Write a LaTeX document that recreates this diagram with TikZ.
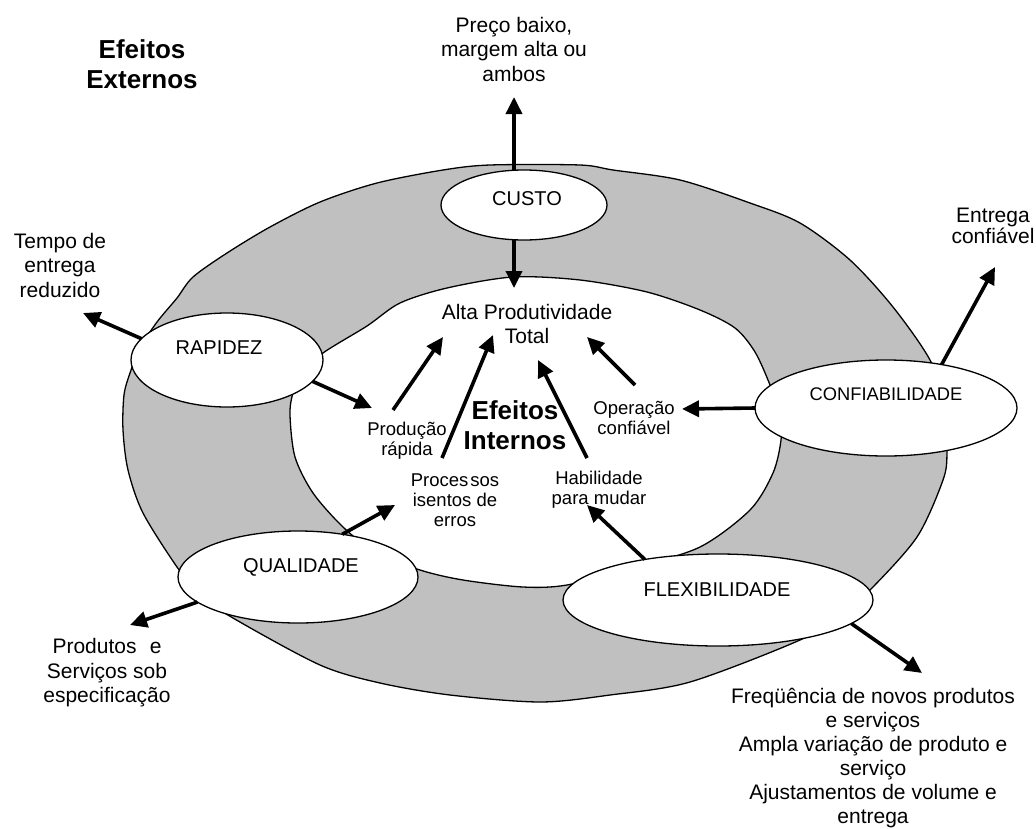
\documentclass[tikz,border=0pt]{standalone}
\usepackage{fontspec}
\setmainfont{Liberation Sans}
\usetikzlibrary{shapes.geometric, arrows.meta, calc}
\definecolor{ringgray}{HTML}{C0C0C0}

\begin{document}
\begin{tikzpicture}[x=1pt, y=-1pt,
  outline/.style={draw=black, line width=1.3pt, line join=round},
  bubble/.style={ellipse, draw=black, fill=white, line width=1.3pt, inner sep=0pt, outer sep=0pt},
  bubbletext/.style={inner sep=0pt, font=\fontsize{20}{24}\selectfont},
  outerlbl/.style={align=center, inner sep=0pt, font=\fontsize{21}{24.5}\selectfont},
  innerlbl/.style={align=center, inner sep=0pt, font=\fontsize{18.5}{20}\selectfont},
  heading/.style={align=center, inner sep=0pt, font=\bfseries\fontsize{26}{30}\selectfont},
  link/.style={line width=3.6pt, -{Triangle[length=17pt,width=16pt]}}
]
\useasboundingbox (0,0) rectangle (1036,828);

% outer ring of external effects
\draw[outline, fill=ringgray] plot[smooth cycle, tension=0.5] coordinates {
  (123,430) (124,395) (130,373) (140,348) (157,322) (177,298) (193,277)
  (227,253) (270,227) (320,202) (377,183) (443,170) (490,165) (580,165)
  (613,170) (680,180) (750,203) (800,223) (850,260) (893,307) (930,360)
  (945,405) (947,452) (943,480) (917,537) (870,590) (840,615) (800,640)
  (690,682) (610,695) (540,702) (450,695) (380,683) (320,665) (233,618)
  (200,595) (177,567) (143,513) (128,470)};

% inner area of internal effects
\draw[outline, fill=white] plot[smooth cycle, tension=0.5] coordinates {
  (290,415) (293,393) (303,373) (323,353) (367,326) (400,303) (447,288)
  (513,277) (580,280) (647,292) (700,310) (735,328) (755,352) (770,385)
  (780,415) (781,440) (773,473) (750,510) (700,547) (633,568) (567,585)
  (523,587) (463,580) (420,570) (375,552) (343,527) (313,493) (295,457)};

% performance objectives
\node[bubble, minimum width=166pt, minimum height=70pt] (custo) at (524,205) {};
\node[bubble, minimum width=192pt, minimum height=94pt] (rapidez) at (227,360) {};
\node[bubble, minimum width=262pt, minimum height=96pt] (confiab) at (886,408) {};
\node[bubble, minimum width=240pt, minimum height=92pt] (qualid) at (298,577) {};
\node[bubble, minimum width=310pt, minimum height=92pt] (flexib) at (718,600) {};

\node[bubbletext] (custoT) at (527,198.5) {CUSTO};
\node[bubbletext] (rapidezT) at (219,348) {RAPIDEZ};
\node[bubbletext, font=\fontsize{18.3}{22}\selectfont] (confiabT) at (886,394) {CONFIABILIDADE};
\node[bubbletext] (qualidT) at (301,567) {QUALIDADE};
\node[bubbletext] (flexibT) at (717,590) {FLEXIBILIDADE};

% headings
\node[heading] (efext) at (142,64) {Efeitos\\Externos};
\node[heading] (efint) at (515,425) {Efeitos\\Internos};

% external effects
\node[outerlbl] (preco) at (514,49) {Preço baixo,\\margem alta ou\\ambos};
\node[outerlbl] (tempo) at (60,265) {Tempo de\\entrega\\reduzido};
\node[outerlbl] (produtos) at (107,673) {Produtos\hspace{0.35em} e\\Serviços sob\\especificação};
\node[outerlbl, font=\fontsize{21}{21}\selectfont] (entrega) at (993,226) {Entrega\\confiável};
\node[outerlbl, font=\fontsize{21}{24}\selectfont] (freq) at (873,758)
  {Freqüência de novos produtos\\e serviços\\Ampla variação de produto e\\serviço\\Ajustamentos de volume e\\entrega};

% internal effects
\node[outerlbl] (alta) at (527,324) {Alta Produtividade\\Total};
\node[innerlbl] (prod) at (407,441) {Produção\\rápida};
\node[innerlbl] (proc) at (455,500) {Proces\kern2pt sos\\isentos de\\erros};
\node[innerlbl] (hab) at (599,490) {Habilidade\\para mudar};
\node[innerlbl] (oper) at (634,418) {Operação\\confiável};

% arrow ends next to the labels
\coordinate (precoIn) at ($(preco)+(0,48)$);
\coordinate (tempoIn) at ($(tempo)+(23,48)$);
\coordinate (produtosIn) at ($(produtos)+(23,-48)$);
\coordinate (entregaIn) at ($(entrega)+(2,41)$);
\coordinate (freqIn) at ($(freq)+(49,-85)$);
\coordinate (altaTop) at ($(alta)+(-13,-36)$);
\coordinate (altaIn1) at ($(alta)+(-84,13)$);
\coordinate (altaIn2) at ($(alta)+(-34,11)$);
\coordinate (altaIn3) at ($(alta)+(11,36)$);
\coordinate (altaIn4) at ($(alta)+(60,13)$);
\coordinate (prodIn) at ($(prod)+(-35,-33)$);
\coordinate (prodOut) at ($(prod)+(-14,-31)$);
\coordinate (procIn) at ($(proc)+(-60,5)$);
\coordinate (procOut) at ($(proc)+(-13,-42)$);
\coordinate (habIn) at ($(hab)+(-12,15)$);
\coordinate (habOut) at ($(hab)+(-12,-32)$);
\coordinate (operIn) at ($(oper)+(48,-9)$);
\coordinate (operOut) at ($(oper)+(1,-33)$);

% connectors
\draw[link] (custo.106) -- (precoIn);
\draw[link] (custo.254) -- (altaTop);
\draw[link] (rapidez.166) -- (tempoIn);
\draw[link] (rapidez.-14) -- (prodIn);
\draw[link] (prodOut) -- (altaIn1);
\draw[link] (procOut) -- (altaIn2);
\draw[link] (habOut) -- (altaIn3);
\draw[link] (operOut) -- (altaIn4);
\draw[link] (confiab.180) -- (operIn);
\draw[link] (confiab.38) -- (entregaIn);
\draw[link] (qualid.44) -- (procIn);
\draw[link] (qualid.194.5) -- (produtosIn);
\draw[link] (flexib.151.5) -- (habIn);
\draw[link] (flexib.-10.6) -- (freqIn);
\end{tikzpicture}
\end{document}
